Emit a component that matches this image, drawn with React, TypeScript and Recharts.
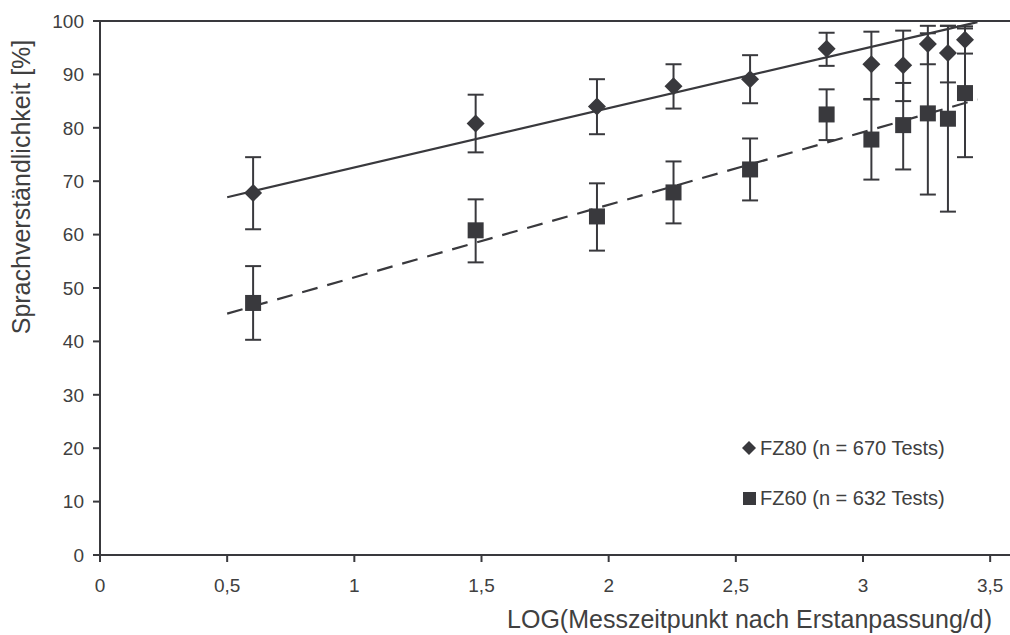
import React from 'react';
import { ScatterChart, Scatter, XAxis, YAxis, ErrorBar, ReferenceLine } from 'recharts';

// log10 of measurement day after first fitting
const logDays = [0.602, 1.477, 1.954, 2.255, 2.556, 2.857, 3.033, 3.158, 3.255, 3.334, 3.401];

const fz80 = [67.8, 80.8, 84.0, 87.8, 89.1, 94.8, 91.9, 91.7, 95.7, 94.0, 96.5];
const fz80Low = [61.0, 75.4, 78.8, 83.6, 84.6, 91.6, 85.4, 85.0, 91.9, 88.5, 93.9];
const fz80High = [74.5, 86.2, 89.1, 91.9, 93.6, 97.8, 98.0, 98.2, 99.1, 99.1, 99.0];

const fz60 = [47.2, 60.8, 63.4, 67.9, 72.2, 82.5, 77.8, 80.5, 82.7, 81.7, 86.5];
const fz60Low = [40.3, 54.8, 57.0, 62.1, 66.4, 77.7, 70.3, 72.2, 67.5, 64.3, 74.5];
const fz60High = [54.1, 66.6, 69.6, 73.7, 78.0, 87.2, 85.3, 88.4, 97.7, 99.1, 98.6];

const trendX = [0.5, 3.45];
const trendFz80 = [67.0, 99.8];
const trendFz60 = [45.2, 85.3];

const xTicks = [0, 0.5, 1, 1.5, 2, 2.5, 3, 3.5];
const yTicks = [0, 10, 20, 30, 40, 50, 60, 70, 80, 90, 100];

const INK = '#39393d';
const TEXT = '#404040';
const FONT = '"Liberation Sans", Arial, sans-serif';

function buildSeries(values: number[], low: number[], high: number[]) {
  return logDays.map((x, i) => ({
    x,
    y: values[i],
    err: [values[i] - low[i], high[i] - values[i]],
  }));
}

const fz80Data = buildSeries(fz80, fz80Low, fz80High);
const fz60Data = buildSeries(fz60, fz60Low, fz60High);
const fz80Trend = trendX.map((x, i) => ({ x, y: trendFz80[i] }));
const fz60Trend = trendX.map((x, i) => ({ x, y: trendFz60[i] }));

function Diamond(props: any) {
  const { cx, cy } = props;
  if (cx == null || cy == null) return <g />;
  const r = 9;
  return <path d={`M${cx},${cy - r}L${cx + r},${cy}L${cx},${cy + r}L${cx - r},${cy}Z`} fill={INK} />;
}

function Square(props: any) {
  const { cx, cy } = props;
  if (cx == null || cy == null) return <g />;
  const s = 8;
  return <rect x={cx - s} y={cy - s} width={s * 2} height={s * 2} fill={INK} />;
}

const NoDot = () => <g />;

const fmt = (v: number) => String(v).replace('.', ',');

export default function App() {
  return (
    <div style={{ position: 'absolute', left: 0, top: 0, width: 1010, height: 635, background: '#fff', fontFamily: FONT }}>
      <ScatterChart width={1010} height={635} margin={{ top: 21, right: 0, left: 0, bottom: 0 }}>
        <XAxis
          type="number"
          dataKey="x"
          domain={[0, 3.578]}
          ticks={xTicks}
          tickFormatter={fmt}
          allowDataOverflow
          height={80}
          axisLine={{ stroke: INK, strokeWidth: 2 }}
          tickLine={{ stroke: INK, strokeWidth: 2 }}
          tickSize={7}
          tickMargin={17}
          tick={{ fill: TEXT, fontSize: 19, fontFamily: FONT }}
          label={{
            content: (p: any) => {
              const vb = p.viewBox || { x: 100, y: 555, width: 910 };
              return (
                <text x={vb.x + vb.width - 18} y={vb.y + 73} textAnchor="end" fill={TEXT} fontSize={25} fontFamily={FONT}>
                  LOG(Messzeitpunkt nach Erstanpassung/d)
                </text>
              );
            },
          }}
        />
        <YAxis
          type="number"
          dataKey="y"
          domain={[0, 100]}
          ticks={yTicks}
          width={100}
          axisLine={{ stroke: INK, strokeWidth: 2 }}
          tickLine={{ stroke: INK, strokeWidth: 2 }}
          tickSize={7}
          tickMargin={9}
          tick={{ fill: TEXT, fontSize: 19, fontFamily: FONT }}
          label={{
            content: () => (
              <text x={30} y={187} transform="rotate(-90, 30, 187)" textAnchor="middle" fill={TEXT} fontSize={25} fontFamily={FONT}>
                Sprachverständlichkeit [%]
              </text>
            ),
          }}
        />
        <ReferenceLine y={100} stroke={INK} strokeWidth={2} />
        <Scatter data={fz80Trend} line={{ stroke: INK, strokeWidth: 2.2 }} shape={NoDot} isAnimationActive={false} />
        <Scatter
          data={fz60Trend}
          line={{ stroke: INK, strokeWidth: 2.2, strokeDasharray: '16 10' }}
          shape={NoDot}
          isAnimationActive={false}
        />
        <Scatter data={fz60Data} shape={Square} isAnimationActive={false}>
          <ErrorBar dataKey="err" direction="y" width={8} stroke={INK} strokeWidth={2} />
        </Scatter>
        <Scatter data={fz80Data} shape={Diamond} isAnimationActive={false}>
          <ErrorBar dataKey="err" direction="y" width={8} stroke={INK} strokeWidth={2} />
        </Scatter>
      </ScatterChart>
      <svg width={1010} height={635} style={{ position: 'absolute', left: 0, top: 0, pointerEvents: 'none' }}>
        <path d="M749,441L756,448L749,455L742,448Z" fill={INK} />
        <text x={760} y={455} fill={TEXT} fontSize={20} fontFamily={FONT}>
          FZ80 (n = 670 Tests)
        </text>
        <rect x={743} y={492} width={13} height={13} fill={INK} />
        <text x={760} y={505} fill={TEXT} fontSize={20} fontFamily={FONT}>
          FZ60 (n = 632 Tests)
        </text>
      </svg>
    </div>
  );
}
